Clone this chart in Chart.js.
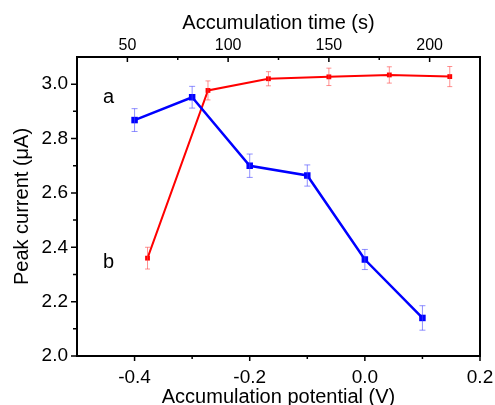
<!DOCTYPE html>
<html>
<head>
<meta charset="utf-8">
<script src="https://cdn.jsdelivr.net/npm/chart.js@4/dist/chart.umd.min.js"></script>
<style>
html, body { margin: 0; padding: 0; background: #fff; }
#wrap { width: 495px; height: 405px; }
</style>
</head>
<body>
<div id="wrap"><canvas id="chart"></canvas></div>
<script>
// curve a: peak current vs accumulation potential (bottom axis)
const potential = [-0.4, -0.3, -0.2, -0.1, 0.0, 0.1];
const currentA = [2.868, 2.952, 2.700, 2.664, 2.355, 2.140];
const errA = [0.042, 0.040, 0.043, 0.039, 0.037, 0.045];

// curve b: peak current vs accumulation time (top axis)
const time = [60, 90, 120, 150, 180, 210];
const currentB = [2.360, 2.977, 3.020, 3.027, 3.034, 3.028];
const errB = [0.040, 0.035, 0.026, 0.032, 0.030, 0.037];

const potentialTicks = [-0.4, -0.2, 0.0, 0.2];
const timeTicks = [50, 100, 150, 200];
const currentTicks = [2.0, 2.2, 2.4, 2.6, 2.8, 3.0];

const FONT = "'Liberation Sans', Arial, sans-serif";

// error bars, drawn through the dataset's own scales
const errorBars = {
    id: 'errorBars',
    afterDatasetsDraw(chart) {
        const ctx = chart.ctx;
        chart.data.datasets.forEach((ds, i) => {
            const meta = chart.getDatasetMeta(i);
            const xs = chart.scales[meta.xAxisID];
            const ys = chart.scales[meta.yAxisID];
            ctx.save();
            ctx.strokeStyle = ds.errColor;
            ctx.lineWidth = 1;
            ds.data.forEach((p, j) => {
                const x = xs.getPixelForValue(p.x);
                const y1 = ys.getPixelForValue(p.y - ds.err[j]);
                const y2 = ys.getPixelForValue(p.y + ds.err[j]);
                const c = ds.capHalf;
                ctx.beginPath();
                ctx.moveTo(x, y1); ctx.lineTo(x, y2);
                ctx.moveTo(x - c, y1); ctx.lineTo(x + c, y1);
                ctx.moveTo(x - c, y2); ctx.lineTo(x + c, y2);
                ctx.stroke();
            });
            ctx.restore();
        });
    }
};

// frame, major + minor ticks, and the a / b labels
const frameTicks = {
    id: 'frameTicks',
    afterDraw(chart) {
        const ctx = chart.ctx;
        const a = chart.chartArea;
        const {x, x2, y} = chart.scales;
        ctx.save();
        ctx.strokeStyle = '#000';
        ctx.lineWidth = 2;
        ctx.strokeRect(a.left, a.top, a.right - a.left, a.bottom - a.top);

        ctx.lineWidth = 1.5;
        ctx.beginPath();
        // bottom axis, outward
        for (let v = -0.4; v <= 0.21; v += 0.1) {
            const px = x.getPixelForValue(v);
            const major = Math.abs(Math.round(v * 10) % 2) === 0;
            ctx.moveTo(px, a.bottom); ctx.lineTo(px, a.bottom + (major ? 5 : 3));
        }
        // top axis, inward
        for (let v = 50; v <= 225; v += 25) {
            const px = x2.getPixelForValue(v);
            ctx.moveTo(px, a.top); ctx.lineTo(px, a.top + (v % 50 === 0 ? 5 : 3));
        }
        // left axis, outward
        for (let v = 2.0; v <= 3.05; v += 0.1) {
            const py = y.getPixelForValue(v);
            const major = Math.round(v * 10) % 2 === 0;
            ctx.moveTo(a.left, py); ctx.lineTo(a.left - (major ? 6 : 4), py);
        }
        ctx.stroke();

        ctx.fillStyle = '#000';
        ctx.font = '20px ' + FONT;
        ctx.textAlign = 'center';
        ctx.textBaseline = 'middle';
        ctx.fillText('a', x.getPixelForValue(-0.445), y.getPixelForValue(2.951));
        ctx.fillText('b', x.getPixelForValue(-0.445), y.getPixelForValue(2.345));
        ctx.restore();
    }
};

// keep tick-label overflow from shrinking the plot area
const noEdgePad = s => {
    s.paddingLeft = 0; s.paddingRight = 0;
    s.paddingTop = 0; s.paddingBottom = 0;
};

new Chart(document.getElementById('chart'), {
    type: 'line',
    data: {
        datasets: [{
            label: 'a',
            data: potential.map((v, i) => ({x: v, y: currentA[i]})),
            err: errA,
            errColor: 'rgba(70,70,255,0.6)',
            capHalf: 3,
            xAxisID: 'x',
            yAxisID: 'y',
            borderColor: '#0000ff',
            backgroundColor: '#0000ff',
            borderWidth: 2.5,
            pointStyle: 'rect',
            pointRadius: 4.6,
            pointBorderWidth: 0,
            tension: 0
        }, {
            label: 'b',
            data: time.map((v, i) => ({x: v, y: currentB[i]})),
            err: errB,
            errColor: 'rgba(255,70,70,0.6)',
            capHalf: 2.5,
            xAxisID: 'x2',
            yAxisID: 'y',
            borderColor: '#ff0000',
            backgroundColor: '#ff0000',
            borderWidth: 2,
            pointStyle: 'rect',
            pointRadius: 3.4,
            pointBorderWidth: 0,
            tension: 0
        }]
    },
    options: {
        responsive: true,
        maintainAspectRatio: false,
        animation: false,
        layout: { padding: { left: 0, right: 15, top: 0, bottom: 0 } },
        plugins: { legend: { display: false }, tooltip: { enabled: false } },
        scales: {
            x: {
                type: 'linear',
                position: 'bottom',
                min: -0.5,
                max: 0.2,
                afterBuildTicks: s => { s.ticks = potentialTicks.map(v => ({value: v})); },
                afterFit: s => { s.height = 49; noEdgePad(s); },
                grid: { display: false, drawTicks: false },
                border: { display: false },
                ticks: {
                    color: '#000',
                    font: { family: FONT, size: 19 },
                    padding: 10,
                    maxRotation: 0,
                    callback: v => v.toFixed(1)
                },
                title: {
                    display: true,
                    text: 'Accumulation potential (V)',
                    color: '#000',
                    font: { family: FONT, size: 20, lineHeight: 0.8 },
                    padding: { top: 0, bottom: 0 }
                }
            },
            x2: {
                type: 'linear',
                position: 'top',
                min: 25,
                max: 225,
                afterBuildTicks: s => { s.ticks = timeTicks.map(v => ({value: v})); },
                afterFit: s => { s.height = 57; noEdgePad(s); },
                grid: { display: false, drawTicks: false },
                border: { display: false },
                ticks: {
                    color: '#000',
                    font: { family: FONT, size: 16 },
                    padding: 2,
                    maxRotation: 0
                },
                title: {
                    display: true,
                    text: 'Accumulation time (s)',
                    color: '#000',
                    font: { family: FONT, size: 20 },
                    padding: { top: 11, bottom: 0 }
                }
            },
            y: {
                type: 'linear',
                position: 'left',
                min: 2.0,
                max: 3.1,
                afterBuildTicks: s => { s.ticks = currentTicks.map(v => ({value: v})); },
                afterFit: s => { s.width = 77; noEdgePad(s); },
                grid: { display: false, drawTicks: false },
                border: { display: false },
                ticks: {
                    color: '#000',
                    font: { family: FONT, size: 19 },
                    padding: 9,
                    callback: v => v.toFixed(1)
                },
                title: {
                    display: true,
                    text: 'Peak current (μA)',
                    color: '#000',
                    font: { family: FONT, size: 20 },
                    padding: { top: 10, bottom: 10 }
                }
            }
        }
    },
    plugins: [errorBars, frameTicks]
});
</script>
</body>
</html>
